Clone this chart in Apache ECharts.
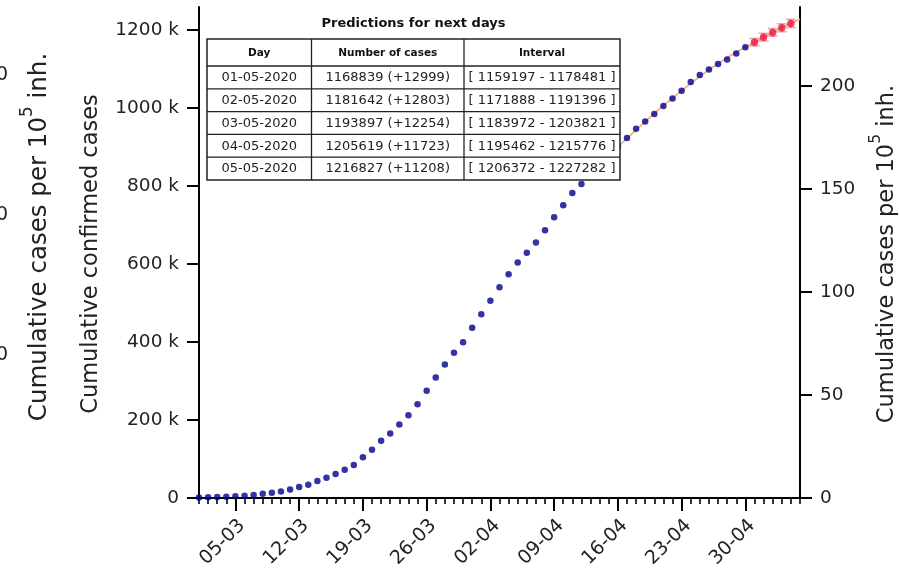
<!DOCTYPE html>
<html><head><meta charset="utf-8">
<script src="https://cdn.jsdelivr.net/npm/echarts@6/dist/echarts.min.js"></script>
<style>html,body{margin:0;padding:0;background:#fff}#c{width:900px;height:573px}</style>
</head><body><div id="c"></div><script>
// ---- data ----
const dates = [
 '01-03','02-03','03-03','04-03','05-03','06-03','07-03','08-03','09-03','10-03',
 '11-03','12-03','13-03','14-03','15-03','16-03','17-03','18-03','19-03','20-03',
 '21-03','22-03','23-03','24-03','25-03','26-03','27-03','28-03','29-03','30-03','31-03',
 '01-04','02-04','03-04','04-04','05-04','06-04','07-04','08-04','09-04','10-04',
 '11-04','12-04','13-04','14-04','15-04','16-04','17-04','18-04','19-04','20-04',
 '21-04','22-04','23-04','24-04','25-04','26-04','27-04','28-04','29-04','30-04',
 '01-05','02-05','03-05','04-05','05-05','06-05'];
const observed = [
 1500,2200,2800,3500,4300,5800,7400,10800,13500,16900,
 22000,28000,34000,43300,52000,61300,72600,84300,104800,123800,
 147000,165600,188600,212400,240600,275000,309000,342300,372300,399500,
 436400,471200,505600,540500,573800,603700,628600,655000,686500,719800,
 750500,782300,805400,829000,853000,877000,900000,923200,947000,965700,
 984700,1005200,1024700,1044400,1066700,1084600,1099000,1112800,1124600,1140000,
 1155800];
const predStartIndex = 61;
const predLabels = ['01-05-2020','02-05-2020','03-05-2020','04-05-2020','05-05-2020'];
const predicted = [1168839,1181642,1193897,1205619,1216827];
const predDelta = [12999,12803,12254,11723,11208];
const predLow = [1159197,1171888,1183972,1195462,1206372];
const predHigh = [1178481,1191396,1203821,1215776,1227282];
const fitStartIndex = 44;
const fitCurve = [853000,877000,900000,922000,944000,965000,986000,1006000,1025000,1044000,
 1063000,1081000,1098000,1114000,1129000,1143000,1156000,1168839,1181642,1193897,1205619,1216827,1227500];
const leftTicks = [0,200000,400000,600000,800000,1000000,1200000];
const rightTicks = [0,50,100,150,200];
const leftMax = 1259000;
const rightMax = 238.3;
const majorFirst = 4, majorStep = 7;

// ---- chart ----
const chart = echarts.init(document.getElementById('c'), null, {renderer:'canvas'});
const FONT = 'DejaVu Sans';
const isMajor = (i) => i >= majorFirst && (i - majorFirst) % majorStep === 0;

const obsData = observed.map((v,i)=>[dates[i], v]);
const predData = predicted.map((v,i)=>[dates[predStartIndex+i], v]);
const errData = predicted.map((v,i)=>[dates[predStartIndex+i], predLow[i], predHigh[i]]);
const fitData = fitCurve.map((v,i)=>[dates[fitStartIndex+i], v]);

// table graphics
const tx = [207, 311.5, 464, 620];
const ty0 = 39, tyH = 66, rowH = 22.8;
const g = [];
const tBottom = tyH + rowH*predicted.length;
g.push({type:'rect', z:100, shape:{x:tx[0], y:ty0, width:tx[3]-tx[0], height:tBottom-ty0},
  style:{fill:'#fff', stroke:'#222', lineWidth:1.5}});
g.push({type:'line', z:101, shape:{x1:tx[0],y1:tyH,x2:tx[3],y2:tyH}, style:{stroke:'#222',lineWidth:1.3}});
for (let r=1;r<predicted.length;r++){
  const y = tyH + r*rowH;
  g.push({type:'line', z:101, shape:{x1:tx[0],y1:y,x2:tx[3],y2:y}, style:{stroke:'#222',lineWidth:1.3}});
}
for (let c=1;c<3;c++){
  g.push({type:'line', z:101, shape:{x1:tx[c],y1:ty0,x2:tx[c],y2:tBottom}, style:{stroke:'#222',lineWidth:1.3}});
}
g.push({type:'text', z:102, x:(tx[0]+tx[3])/2, y:24, style:{text:'Predictions for next days', fontFamily:FONT, fontWeight:'bold', fontSize:13, fill:'#111', align:'center', verticalAlign:'middle'}});
const heads = ['Day','Number of cases','Interval'];
heads.forEach((h,c)=>g.push({type:'text', z:102, x:(tx[c]+tx[c+1])/2, y:(ty0+tyH)/2+0.5,
  style:{text:h, fontFamily:FONT, fontWeight:'bold', fontSize:10.5, fill:'#111', align:'center', verticalAlign:'middle'}}));
predicted.forEach((v,r)=>{
  const cy = tyH + r*rowH + rowH/2 + 0.5;
  const cells = [predLabels[r], v + ' (+' + predDelta[r] + ')', '[ ' + predLow[r] + ' - ' + predHigh[r] + ' ]'];
  cells.forEach((t,c)=>g.push({type:'text', z:102, x:(tx[c]+tx[c+1])/2, y:cy,
    style:{text:t, fontFamily:FONT, fontSize:13, fill:'#222', align:'center', verticalAlign:'middle'}}));
});
// axis titles
g.push({type:'text', z:50, x:91, y:254, rotation:Math.PI/2,
  style:{text:'Cumulative confirmed cases', fontFamily:FONT, fontSize:22.5, fill:'#222', align:'center', verticalAlign:'middle'}});
const mkRich = (fs)=>({a:{fontFamily:FONT, fontSize:fs, fill:'#222', lineHeight:fs*1.35, verticalAlign:'bottom'},
                 s:{fontFamily:FONT, fontSize:fs*0.69, fill:'#222', lineHeight:fs*1.35, verticalAlign:'top'}});
g.push({type:'text', z:50, x:883, y:254, rotation:Math.PI/2,
  style:{text:'{a|Cumulative cases per 10}{s|5}{a| inh.}', rich:mkRich(22.5), align:'center', verticalAlign:'middle'}});
// neighbouring panel remnants at left edge
g.push({type:'text', z:50, x:36, y:237, rotation:Math.PI/2,
  style:{text:'{a|Cumulative cases per 10}{s|5}{a| inh.}', rich:mkRich(24.5), align:'center', verticalAlign:'middle'}});
[75,215,355].forEach(y=>g.push({type:'text', z:50, x:-4, y:y,
  style:{text:'0', fontFamily:FONT, fontSize:19, fill:'#222', align:'left', verticalAlign:'middle'}}));

const option = {
  animation:false,
  backgroundColor:'#fff',
  grid:{left:199, right:100, top:7, bottom:75, containLabel:false},
  xAxis:[
    {type:'category', data:dates, boundaryGap:false,
     axisLine:{show:true, lineStyle:{color:'#000', width:2}},
     axisTick:{show:true, interval:0, length:6, lineStyle:{color:'#000', width:1.6}},
     axisLabel:{interval:(i)=>isMajor(i), rotate:45, margin:18, verticalAlign:'top', fontFamily:FONT, fontSize:19, color:'#222'},
     splitLine:{show:false}},
    {type:'category', data:dates, boundaryGap:false, position:'bottom',
     axisLine:{show:false},
     axisTick:{show:true, interval:(i)=>isMajor(i), length:13, lineStyle:{color:'#000', width:2}},
     axisLabel:{show:false}, splitLine:{show:false}}
  ],
  yAxis:[
    {type:'value', position:'left', min:0, max:leftMax, interval:200000,
     axisLine:{show:true, lineStyle:{color:'#000', width:2}},
     axisTick:{show:true, length:12, customValues:leftTicks, lineStyle:{color:'#000', width:2}},
     axisLabel:{customValues:leftTicks, margin:20, fontFamily:FONT, fontSize:18.5, color:'#222',
       formatter:(v)=> v===0 ? '0' : (v/1000)+' k'},
     splitLine:{show:false}},
    {type:'value', position:'right', min:0, max:rightMax, interval:50,
     axisLine:{show:true, lineStyle:{color:'#000', width:2}},
     axisTick:{show:true, length:12, customValues:rightTicks, lineStyle:{color:'#000', width:2}},
     axisLabel:{customValues:rightTicks, margin:20, fontFamily:FONT, fontSize:18.5, color:'#222'},
     splitLine:{show:false}}
  ],
  series:[
    {type:'line', name:'fit', data:fitData, xAxisIndex:0, yAxisIndex:0, showSymbol:false, symbol:'none',
     lineStyle:{color:'#f6a878', width:1.6}, z:2, clip:false},
    {type:'scatter', name:'observed', data:obsData, xAxisIndex:0, yAxisIndex:0, symbolSize:6.5,
     itemStyle:{color:'#000090'}, z:3},
    {type:'custom', name:'interval', data:errData, xAxisIndex:0, yAxisIndex:0, z:4,
     encode:{x:0, y:[1,2]},
     renderItem:(params, api)=>{
       const x = api.value(0);
       const lo = api.coord([x, api.value(1)]);
       const hi = api.coord([x, api.value(2)]);
       const w = 5;
       const st = {stroke:'rgba(235,40,70,0.45)', lineWidth:1.5};
       return {type:'group', children:[
         {type:'line', shape:{x1:lo[0],y1:lo[1],x2:hi[0],y2:hi[1]}, style:st},
         {type:'line', shape:{x1:lo[0]-w,y1:lo[1],x2:lo[0]+w,y2:lo[1]}, style:st},
         {type:'line', shape:{x1:hi[0]-w,y1:hi[1],x2:hi[0]+w,y2:hi[1]}, style:st}
       ]};
     }},
    {type:'scatter', name:'predicted', data:predData, xAxisIndex:0, yAxisIndex:0, symbolSize:7.5,
     itemStyle:{color:'#e8163c'}, z:5}
  ],
  graphic: g
};
chart.setOption(option);
</script></body></html>
